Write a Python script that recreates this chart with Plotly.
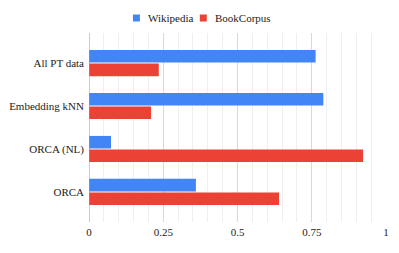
import plotly.graph_objects as go

categories = ["All PT data", "Embedding kNN", "ORCA (NL)", "ORCA"]
wikipedia = [0.763, 0.789, 0.074, 0.360]
bookcorpus = [0.235, 0.209, 0.923, 0.640]
x_ticks = [0, 0.25, 0.5, 0.75, 1]
x_tick_labels = ["0", "0.25", "0.5", "0.75", "1"]
series_names = ["Wikipedia", "BookCorpus"]
series_colors = ["#4285F4", "#EA4335"]

font = dict(family="'Liberation Serif', 'Times New Roman', 'DejaVu Serif', serif", size=11, color="#222222")

W, H = 399, 253
ML, MR, MT, MB = 89, 12.5, 33, 31

fig = go.Figure()
for name, vals, col in zip(series_names, [wikipedia, bookcorpus], series_colors):
    fig.add_trace(go.Bar(y=categories, x=vals, orientation="h", name=name,
                         marker=dict(color=col, line=dict(width=0)), showlegend=False))

fig.update_layout(
    width=W, height=H,
    margin=dict(l=ML, r=MR, t=MT, b=MB, autoexpand=False),
    paper_bgcolor="white", plot_bgcolor="white",
    font=font,
    barmode="group", bargap=0.37, bargroupgap=0.07,
    xaxis=dict(range=[0, 1], tickvals=x_ticks, ticktext=x_tick_labels,
               showgrid=True, gridcolor="#d9d9d9", gridwidth=1,
               minor=dict(dtick=0.05, showgrid=True, gridcolor="#efefef", gridwidth=1),
               zeroline=False, showline=False, ticks="", automargin=False,
               ticklabelstandoff=2, fixedrange=True),
    yaxis=dict(type="category", categoryorder="array", categoryarray=categories,
               range=[3.7, -0.7], showgrid=False, zeroline=False, automargin=False,
               showline=False, ticks="", ticklabelstandoff=4, fixedrange=True),
)
fig.add_shape(type="line", xref="x", yref="paper", x0=0, x1=0, y0=0, y1=1,
              line=dict(color="#9a9a9a", width=1))

# custom legend (Google-charts style)
leg_y = 18
item_x = [133, 200]
for name, col, x0 in zip(series_names, series_colors, item_x):
    fig.add_shape(type="rect", xref="paper", yref="paper",
                  x0=(x0 - ML) / (W - ML - MR), x1=(x0 + 7 - ML) / (W - ML - MR),
                  y0=(H - MB - (leg_y + 3.5)) / (H - MT - MB),
                  y1=(H - MB - (leg_y - 3.5)) / (H - MT - MB),
                  fillcolor=col, line=dict(width=0))
    fig.add_annotation(xref="paper", yref="paper", text=name, showarrow=False,
                       x=(x0 + 13 - ML) / (W - ML - MR),
                       y=(H - MB - leg_y) / (H - MT - MB),
                       xanchor="left", yanchor="middle", font=font)

fig.write_html("out.html", config={"displayModeBar": False},
               post_script="document.body.style.margin='0';document.body.style.padding='0';")
